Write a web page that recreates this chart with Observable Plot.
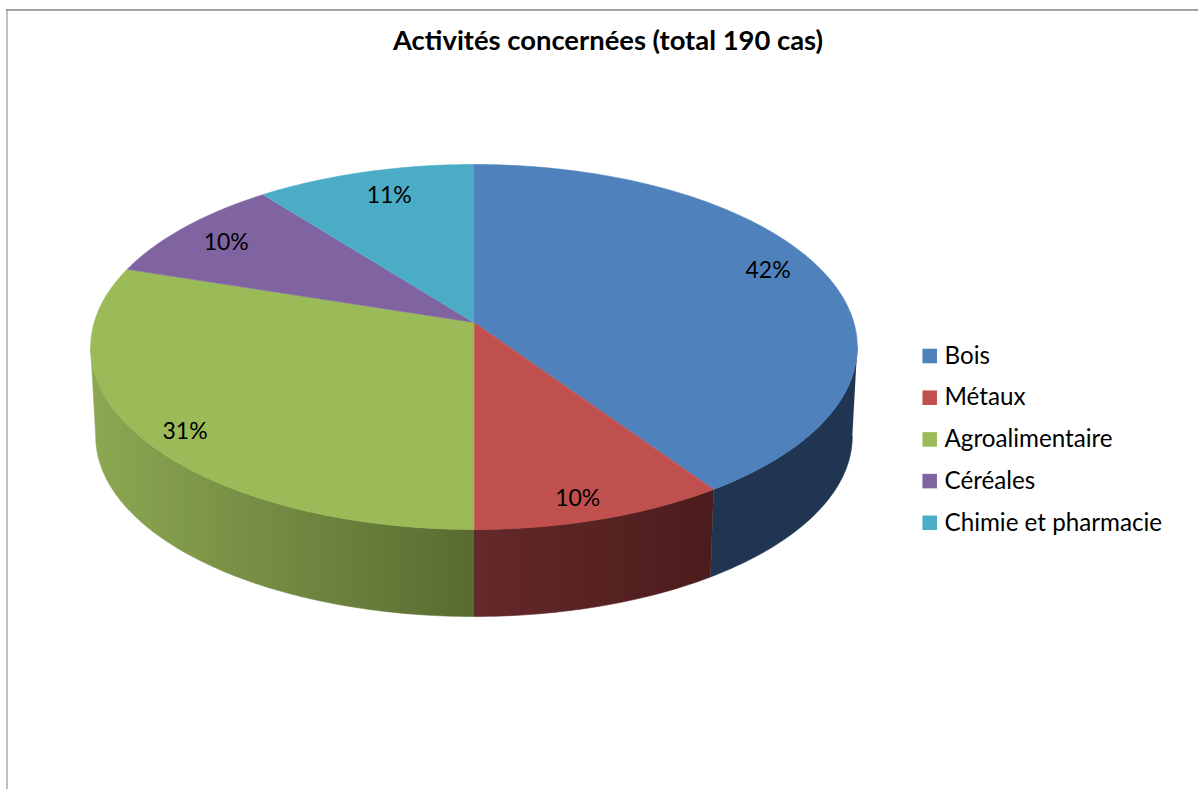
<!DOCTYPE html>
<html lang="fr">
<head>
<meta charset="utf-8">
<title>Activités concernées</title>
<script src="https://cdn.jsdelivr.net/npm/d3@7"></script>
<script src="https://cdn.jsdelivr.net/npm/@observablehq/plot@0.6"></script>
<style>
  html, body { margin: 0; padding: 0; background: #fff; }
  svg { display: block; }
</style>
</head>
<body>
<div id="chart"></div>
<script>
// Data
const chartTitle = "Activités concernées (total 190 cas)";
const categories = ["Bois", "Métaux", "Agroalimentaire", "Céréales", "Chimie et pharmacie"];
const percents = [42, 10, 31, 10, 11];          // printed labels
const cases = [77, 18, 57, 18, 20];             // slice sizes estimated from the drawn angles (total 190)

// Styling
const topColors = ["#4F81BD", "#C0504D", "#9BBB59", "#8064A2", "#4BACC6"];
const wallStops = [["#1F3552", "#1F3552"], ["#66292A", "#4A1C1B"], ["#8CA852", "#596B31"], ["#4C3C61", "#4C3C61"], ["#2D6776", "#2D6776"]];
const labelRadius = [0.86, 0.90, 0.90, 0.84, 0.82];
const labelNudge = [-3.45, 1.5, -2.6, -0.75, 1.45];

// Page frame and pie projection, in picture units
const W = 1198, H = 789;
const pie = {cx: 473.5, cy: 322, a: 379.8, b: 179.2, k: -0.1342, wallCy: 411.7, wallScale: 0.987};
const font = "Lato, Carlito, Calibri, sans-serif";

const rad = (d) => (d * Math.PI) / 180;
// Tilted disc: angle in degrees clockwise from the top, r in 0..1
function project(deg, r = 1, wall = false) {
  const u = r * Math.sin(rad(deg)), v = -r * Math.cos(rad(deg));
  const w = 1 + pie.k * v, s = wall ? pie.wallScale : 1;
  return {x: pie.cx + (s * pie.a * u) / w, y: (wall ? pie.wallCy : pie.cy) + (s * pie.b * v) / w};
}
function arc(a0, a1, wall = false) {
  const n = Math.max(2, Math.ceil(Math.abs(a1 - a0)));
  return d3.range(n + 1).map((i) => project(a0 + ((a1 - a0) * i) / n, 1, wall));
}

const total = d3.sum(cases);
let acc = 0;
const slices = categories.map((name, i) => {
  const start = (acc / total) * 360;
  acc += cases[i];
  return {name, i, start, end: (acc / total) * 360, pct: percents[i]};
});

// Visible rim runs between the two horizontal extremes of the ellipse
const rimStart = (Math.acos(pie.k) * 180) / Math.PI, rimEnd = 360 - rimStart;

const tops = slices.map((s) =>
  Plot.line([project(0, 0), ...arc(s.start, s.end)], {x: "x", y: "y", fill: topColors[s.i], stroke: topColors[s.i], strokeWidth: 0.6})
);
const walls = slices
  .filter((s) => s.start < rimEnd && s.end > rimStart)
  .map((s) => {
    const a0 = Math.max(s.start, rimStart), a1 = Math.min(s.end, rimEnd);
    return Plot.line([...arc(a0, a1), ...arc(a1, a0, true)], {
      x: "x", y: "y", fill: `url(#wall${s.i})`, stroke: `url(#wall${s.i})`, strokeWidth: 0.6
    });
  });

const defs = () => {
  const d = d3.create("svg:defs");
  wallStops.forEach((st, i) => {
    const g = d.append("linearGradient").attr("id", `wall${i}`).attr("x1", 0).attr("x2", 1).attr("y1", 0).attr("y2", 0);
    g.append("stop").attr("offset", 0).attr("stop-color", st[0]);
    g.append("stop").attr("offset", 1).attr("stop-color", st[1]);
  });
  return d.node();
};

const labels = slices.map((s) => {
  const p = project((s.start + s.end) / 2 + labelNudge[s.i], labelRadius[s.i]);
  return {...p, text: `${s.pct}%`};
});

const legendX = 922, legendY0 = 355.5, legendStep = 41.7;
const legend = slices.map((s) => ({name: s.name, i: s.i, y: legendY0 + legendStep * s.i}));

const chart = Plot.plot({
  width: W, height: H,
  margin: 0,
  style: {background: "#fff", overflow: "hidden"},
  x: {domain: [0, W], range: [0, W], axis: null},
  y: {domain: [0, H], range: [0, H], axis: null},
  marks: [
    defs,
    Plot.ruleX([6.5], {y1: 9.5, y2: H, stroke: "#ababab", strokeWidth: 1.5}),
    Plot.ruleY([9.5], {x1: 6, x2: W, stroke: "#868686", strokeWidth: 1.5}),
    ...walls,
    ...tops,
    Plot.text(labels, {x: "x", y: "y", text: "text", fontFamily: font, fontSize: 23, fill: "#000"}),
    Plot.text([chartTitle], {x: [607.5], y: [41], text: (d) => d, fontFamily: font, fontWeight: "bold", fontSize: 27.4, fill: "#000"}),
    Plot.dot(legend, {x: () => legendX + 7.2, y: "y", symbol: "square", r: 8.2, fill: (d) => topColors[d.i]}),
    Plot.text(legend, {x: () => legendX + 22, y: "y", text: "name", textAnchor: "start", fontFamily: font, fontSize: 24.2, fill: "#000"})
  ]
});
document.getElementById("chart").append(chart);
</script>
</body>
</html>
